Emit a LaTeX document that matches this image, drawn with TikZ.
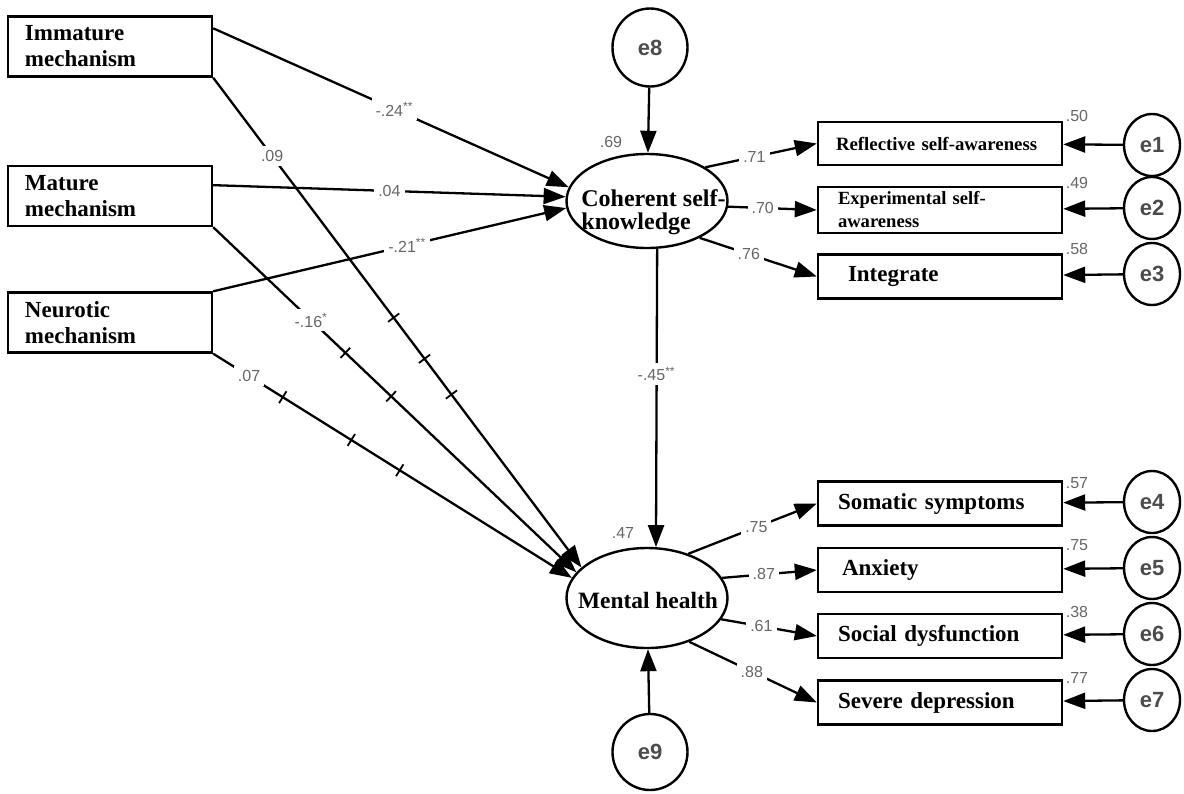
\documentclass[tikz,border=0pt]{standalone}
\usepackage{fontspec}
\setmainfont{Liberation Serif}
\setsansfont{Liberation Sans}
\usetikzlibrary{arrows.meta,shapes.geometric,decorations.markings}

\begin{document}
\begin{tikzpicture}[x=0.5pt,y=-0.5pt,
    box/.style={draw,line width=1.2pt,rectangle,inner ysep=0pt,align=left,
        font=\fontsize{11.5}{13}\selectfont\bfseries},
    lbox/.style={box,minimum height=30pt,text width=85pt,inner xsep=8.5pt},
    rbox/.style={box,minimum height=22pt,text width=102pt,inner xsep=10pt},
    latent/.style={draw,line width=1.2pt,ellipse,inner sep=0pt,minimum width=80.5pt},
    err/.style={draw,line width=1.2pt,ellipse,inner sep=0pt,minimum width=28pt,minimum height=31pt,
        font=\sffamily\bfseries\fontsize{11}{13}\selectfont,text=black!70},
    arr/.style={line width=1.15pt,-{Triangle[length=11pt,width=8pt]}},
    coef/.style={font=\sffamily\fontsize{8}{9}\selectfont,text=black!60,fill=white,inner sep=2pt},
    varlbl/.style={font=\sffamily\fontsize{8}{9}\selectfont,text=black!60,inner sep=0pt},
    tick/.style={postaction={decorate,decoration={markings,
        mark=at position #1 with {\draw[-,line width=0.9pt] (0,-3.5pt) -- (0,3.5pt);}}}},
]
    \useasboundingbox (0,0) rectangle (1184,793);

    \node[lbox] (imm) at (110,46.5) {Immature\\mechanism};
    \node[lbox] (mat) at (110,196) {Mature\\mechanism};
    \node[lbox] (neu) at (110,322.5) {Neurotic\\mechanism};

    \node[latent,minimum height=47pt] (csk) at (647,201) {};
    \node[font=\fontsize{12}{11.5}\selectfont\bfseries,align=left,inner sep=0pt,anchor=west]
        (csktxt) at (581,212) {Coherent self-\\knowledge};
    \node[latent,minimum height=50pt] (mh) at (647,598) {};
    \node[font=\fontsize{11.7}{13}\selectfont\bfseries,inner sep=0pt] (mhtxt) at (648,600) {Mental health};

    \node[err,minimum width=37.5pt,minimum height=39pt] (e8) at (650,47.5) {e8};
    \node[err,minimum width=37.5pt,minimum height=38pt] (e9) at (650,752) {e9};

    \node[rbox,minimum height=21.5pt,text width=104pt,inner xsep=9pt,font=\fontsize{9.4}{11}\selectfont\bfseries] (refl) at (940,143.5) {Reflective self-awareness};
    \node[rbox,minimum height=23pt,font=\fontsize{9.3}{11.5}\selectfont\bfseries] (exper) at (940,210) {Experimental self-\\awareness};
    \node[rbox] (integ) at (940,276.5) {\hspace*{5pt}Integrate};
    \node[rbox] (som) at (940,503.5) {Somatic symptoms};
    \node[rbox] (anx) at (940,570) {\hspace*{2pt}Anxiety};
    \node[rbox] (soc) at (940,636) {Social dysfunction};
    \node[rbox] (sev) at (940,702.5) {Severe depression};

    \node[err] (e1) at (1152,145) {e1};
    \node[err] (e2) at (1152,208) {e2};
    \node[err] (e3) at (1152,274) {e3};
    \node[err] (e4) at (1152,502) {e4};
    \node[err] (e5) at (1152,568) {e5};
    \node[err] (e6) at (1152,634) {e6};
    \node[err] (e7) at (1152,700) {e7};

    \node[varlbl] (v8) at (611,142) {.69};
    \node[varlbl] (v9) at (623,533) {.47};
    \node[varlbl] (v1) at (1077,116) {.50};
    \node[varlbl] (v2) at (1077,183) {.49};
    \node[varlbl] (v3) at (1077,249) {.58};
    \node[varlbl] (v4) at (1077,483) {.57};
    \node[varlbl] (v5) at (1077,545) {.75};
    \node[varlbl] (v6) at (1077,612) {.38};
    \node[varlbl] (v7) at (1077,678) {.77};

    \draw[arr,tick=.49,tick=.574,tick=.647] (imm.south east) -- (mh.155) node[coef,pos=.16] {.09};
    \draw[arr,tick=.364,tick=.49] (mat.south east) -- (mh.160) node[coef,pos=.27] {-.16\textsuperscript{*}};
    \draw[arr,tick=.194,tick=.385,tick=.52] (neu.south east) -- (mh.165) node[coef,pos=.1] {.07};
    \draw[arr] (imm.10) -- (csk.170) node[coef,pos=.51] {-.24\textsuperscript{**}};
    \draw[arr] (mat.6) -- (csk.177) node[coef,pos=.5] {.04};
    \draw[arr] (neu.north east) -- (csk.185) node[coef,pos=.55] {-.21\textsuperscript{**}};

    \draw[arr] (e8) -- (csk);
    \draw[arr] (e9) -- (mh);
    \draw[arr] (csk.-78) -- (mh.80) node[coef,pos=.42] {-.45\textsuperscript{**}};

    \draw[arr] (csk.30) -- (refl.west) node[coef,pos=.44] {.71};
    \draw[arr] (csk.-4) -- (exper.west) node[coef,pos=.39] {.70};
    \draw[arr] (csk.-35) -- (integ.west) node[coef,pos=.42] {.76};
    \draw[arr] (mh.47) -- (som.west) node[coef,pos=.53] {.75};
    \draw[arr] (mh.15) -- (anx.west) node[coef,pos=.44] {.87};
    \draw[arr] (mh.-16) -- (soc.west) node[coef,pos=.42] {.61};
    \draw[arr] (mh.-46) -- (sev.west) node[coef,pos=.49] {.88};

    \draw[arr] (e1) -- (refl);
    \draw[arr] (e2) -- (exper);
    \draw[arr] (e3) -- (integ);
    \draw[arr] (e4) -- (som);
    \draw[arr] (e5) -- (anx);
    \draw[arr] (e6) -- (soc);
    \draw[arr] (e7) -- (sev);
\end{tikzpicture}
\end{document}
